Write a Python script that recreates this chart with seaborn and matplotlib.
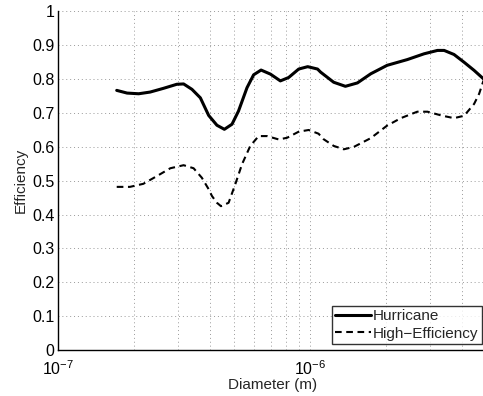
import matplotlib
matplotlib.use("Agg")
import matplotlib.pyplot as plt
import matplotlib.ticker as mticker
import seaborn as sns
import pandas as pd

# diameters (m) and efficiencies
hurricane_d = [1.71e-7, 1.88e-7, 2.09e-7, 2.32e-7, 2.62e-7, 2.96e-7, 3.15e-7, 3.40e-7,
               3.67e-7, 3.96e-7, 4.27e-7, 4.57e-7, 4.90e-7, 5.20e-7, 5.62e-7, 5.97e-7,
               6.39e-7, 6.96e-7, 7.62e-7, 8.22e-7, 9.01e-7, 9.78e-7, 1.07e-6, 1.10e-6,
               1.24e-6, 1.38e-6, 1.54e-6, 1.74e-6, 2.02e-6, 2.43e-6, 2.83e-6, 3.20e-6,
               3.40e-6, 3.72e-6, 4.08e-6, 4.47e-6, 4.87e-6]
hurricane_eff = [0.767, 0.759, 0.757, 0.762, 0.773, 0.785, 0.786, 0.770,
                 0.745, 0.693, 0.664, 0.652, 0.667, 0.706, 0.775, 0.813,
                 0.827, 0.815, 0.795, 0.805, 0.830, 0.837, 0.830, 0.821,
                 0.791, 0.779, 0.789, 0.816, 0.841, 0.858, 0.875, 0.885,
                 0.885, 0.873, 0.850, 0.826, 0.801]

higheff_d = [1.71e-7, 1.93e-7, 2.18e-7, 2.47e-7, 2.79e-7, 3.15e-7, 3.45e-7, 3.72e-7,
             3.96e-7, 4.08e-7, 4.27e-7, 4.43e-7, 4.75e-7, 5.05e-7, 5.37e-7, 5.79e-7,
             6.25e-7, 6.75e-7, 7.51e-7, 8.10e-7, 9.01e-7, 9.87e-7, 1.08e-6, 1.13e-6,
             1.24e-6, 1.36e-6, 1.49e-6, 1.74e-6, 2.02e-6, 2.29e-6, 2.66e-6, 2.92e-6,
             3.35e-6, 3.72e-6, 4.08e-6, 4.47e-6, 4.68e-6, 4.87e-6]
higheff_eff = [0.482, 0.482, 0.491, 0.514, 0.537, 0.546, 0.537, 0.509,
               0.475, 0.455, 0.435, 0.425, 0.435, 0.490, 0.549, 0.603,
               0.632, 0.632, 0.622, 0.627, 0.645, 0.650, 0.639, 0.623,
               0.603, 0.593, 0.600, 0.626, 0.663, 0.685, 0.704, 0.704,
               0.692, 0.685, 0.692, 0.727, 0.757, 0.796]

df_h = pd.DataFrame({"Diameter": hurricane_d, "Efficiency": hurricane_eff})
df_e = pd.DataFrame({"Diameter": higheff_d, "Efficiency": higheff_eff})

sns.set_style("white")
plt.rcParams["font.family"] = ["Liberation Sans", "DejaVu Sans"]
plt.rcParams["mathtext.fontset"] = "custom"
plt.rcParams["mathtext.rm"] = "Liberation Sans"
plt.rcParams["mathtext.it"] = "Liberation Sans:italic"
plt.rcParams["lines.solid_joinstyle"] = "round"
plt.rcParams["lines.dash_joinstyle"] = "round"

fig = plt.figure(figsize=(4.83, 3.96), dpi=100)
ax = fig.add_axes([0.120, 0.116, 0.887, 0.855])

sns.lineplot(data=df_h, x="Diameter", y="Efficiency", ax=ax, color="black",
             linewidth=2.2, label="Hurricane")
sns.lineplot(data=df_e, x="Diameter", y="Efficiency", ax=ax, color="black",
             linewidth=1.5, linestyle=(0, (3.2, 2.2)), label="High\u2212Efficiency")

ax.set_xscale("log")
ax.set_xlim(1e-7, 5e-6)
ax.set_ylim(0, 1)
ax.set_yticks([i / 10 for i in range(11)])
ax.set_yticklabels(["0", "0.1", "0.2", "0.3", "0.4", "0.5", "0.6", "0.7", "0.8", "0.9", "1"])
ax.xaxis.set_major_locator(mticker.FixedLocator([1e-7, 1e-6]))
ax.xaxis.set_minor_locator(mticker.LogLocator(base=10, subs=range(2, 10), numticks=20))
ax.xaxis.set_minor_formatter(mticker.NullFormatter())

ax.grid(True, which="both", axis="x", linestyle=(0, (1, 3)), color="#999999", linewidth=0.7)
ax.grid(True, which="major", axis="y", linestyle=(0, (1, 3)), color="#999999", linewidth=0.7)

for side in ["top", "right"]:
    ax.spines[side].set_visible(False)
for side in ["left", "bottom"]:
    ax.spines[side].set_color("black")
    ax.spines[side].set_linewidth(1.0)

ax.tick_params(which="both", direction="in", colors="black", labelsize=11.5)
ax.tick_params(which="major", length=4)
ax.tick_params(which="minor", length=2)
ax.tick_params(axis="y", pad=2.5)
ax.tick_params(axis="x", pad=6.5)

ax.set_xlabel("Diameter (m)", fontsize=11, labelpad=0)
ax.set_ylabel("Efficiency", fontsize=11, labelpad=3)

leg = ax.legend(loc="lower right", bbox_to_anchor=(0.996, 0.01), fontsize=11,
                frameon=True, fancybox=False, handlelength=2.35, borderpad=0.2,
                labelspacing=0.22, handletextpad=0.15, borderaxespad=0.2)
leg.get_frame().set_edgecolor("black")
leg.get_frame().set_linewidth(1.0)

fig.savefig("out.png", dpi=100)
